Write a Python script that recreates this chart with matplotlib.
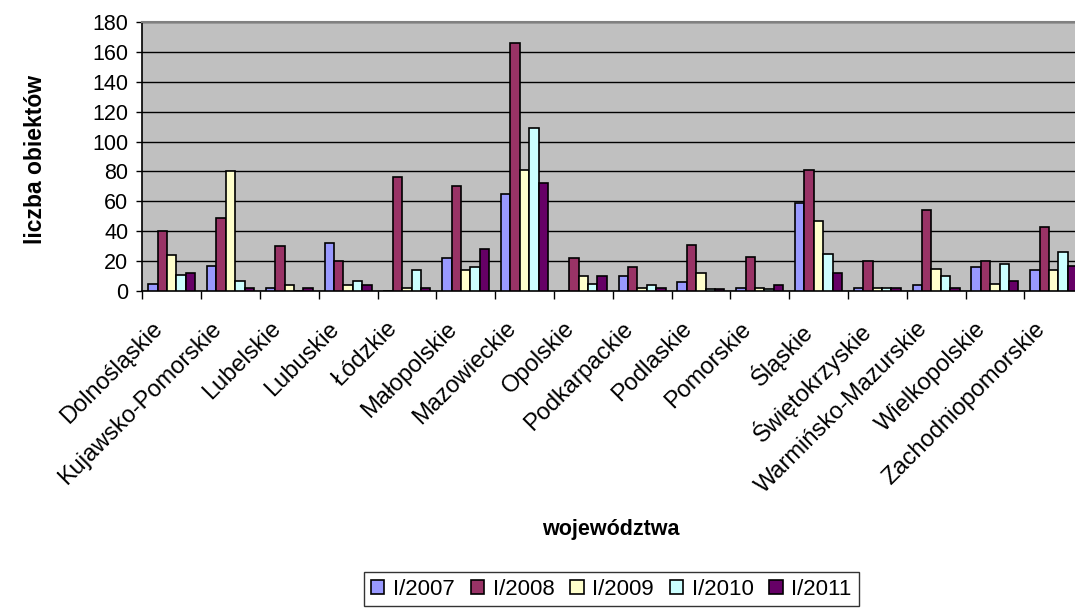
import numpy as np
import matplotlib
matplotlib.use("Agg")
import matplotlib.pyplot as plt
import matplotlib.transforms as mtransforms

plt.rcParams['font.family'] = ['Liberation Sans', 'DejaVu Sans']

# województwa
regions = ['Dolnośląskie', 'Kujawsko-Pomorskie', 'Lubelskie', 'Lubuskie',
           'Łódzkie', 'Małopolskie', 'Mazowieckie', 'Opolskie',
           'Podkarpackie', 'Podlaskie', 'Pomorskie', 'Śląskie',
           'Świętokrzyskie', 'Warmińsko-Mazurskie', 'Wielkopolskie',
           'Zachodniopomorskie']

series_names = ['I/2007', 'I/2008', 'I/2009', 'I/2010', 'I/2011']

v2007 = [5, 17, 2, 32, 0, 22, 65, 0, 10, 6, 2, 59, 2, 4, 16, 14]
v2008 = [40, 49, 30, 20, 76, 70, 166, 22, 16, 31, 23, 81, 20, 54, 20, 43]
v2009 = [24, 80, 4, 4, 2, 14, 81, 10, 2, 12, 2, 47, 2, 15, 5, 14]
v2010 = [11, 7, 0, 7, 14, 16, 109, 5, 4, 1, 1, 25, 2, 10, 18, 26]
v2011 = [12, 2, 2, 4, 2, 28, 72, 10, 2, 1, 4, 12, 2, 2, 7, 17]

colors = ['#9999FF', '#993366', '#FFFFCC', '#CCFFFF', '#660066']

fig = plt.figure(figsize=(10.75, 6.08), dpi=100)
# plot area runs past the right edge, like in the original screenshot
ax = fig.add_axes([0.1324, 0.5214, 0.8752, 0.4424])
ax.set_facecolor('#C0C0C0')

x = np.arange(len(regions))
bw = 0.16
all_vals = [v2007, v2008, v2009, v2010, v2011]
for i, (vals, name, c) in enumerate(zip(all_vals, series_names, colors)):
    ax.bar(x + (i - 2) * bw, vals, width=bw, color=c, edgecolor='black',
           linewidth=1.2, label=name, zorder=3)

ax.set_xlim(-0.5, len(regions) - 0.5)
ax.set_ylim(0, 180)
ax.set_yticks(np.arange(0, 181, 20))
ax.yaxis.grid(True, color='black', linewidth=1, zorder=0)
ax.set_axisbelow(True)

# ticks at category borders, labels at the centres
ax.set_xticks(np.arange(-0.5, len(regions) + 0.5, 1))
ax.set_xticklabels([])
ax.set_xticks(x, minor=True)
ax.set_xticklabels(regions, minor=True, rotation=45, ha='right',
                   rotation_mode='anchor', fontsize=17)
ax.tick_params(axis='x', which='major', length=6, width=1, direction='out')
ax.tick_params(axis='x', which='minor', length=0, pad=12)
ax.tick_params(axis='y', length=4, width=1, labelsize=15.5, pad=6)

shift = mtransforms.ScaledTranslation(-20 / 100, -10 / 100, fig.dpi_scale_trans)
for lbl in ax.get_xticklabels(minor=True):
    lbl.set_transform(lbl.get_transform() + shift)

for s in ['left', 'bottom']:
    ax.spines[s].set_color('black')
    ax.spines[s].set_linewidth(1.2)
ax.spines['top'].set_color('#808080')
ax.spines['top'].set_linewidth(1.5)
ax.spines['right'].set_visible(False)

fig.text(36 / 1075, 1 - 160 / 608, 'liczba obiektów', rotation=90,
         ha='center', va='center', fontsize=16.5, fontweight='bold')
fig.text(611 / 1075, 1 - 530 / 608, 'województwa', ha='center',
         va='center', fontsize=15.5, fontweight='bold')

leg = fig.legend(loc='upper center', bbox_to_anchor=(611.5 / 1075, 1 - 572 / 608),
                 ncol=5, fontsize=16, frameon=True, fancybox=False,
                 handlelength=0.6, handleheight=0.6, handletextpad=0.4,
                 columnspacing=0.7, borderpad=0.3, borderaxespad=0)
leg.get_frame().set_edgecolor('black')
leg.get_frame().set_linewidth(1)

fig.savefig('out.png', dpi=100)
